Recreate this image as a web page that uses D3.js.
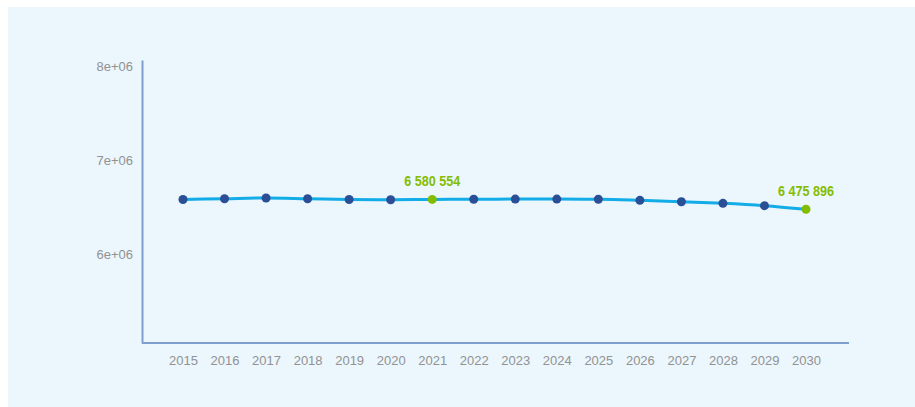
<!DOCTYPE html>
<html>
<head>
<meta charset="utf-8">
<script src="https://d3js.org/d3.v7.min.js"></script>
<style>
  body { margin: 0; background: #fff; }
  text { font-family: "Liberation Sans", Arial, sans-serif; }
</style>
</head>
<body>
<script>
// data
var years = [2015, 2016, 2017, 2018, 2019, 2020, 2021, 2022, 2023, 2024, 2025, 2026, 2027, 2028, 2029, 2030];
var population = [6580000, 6588000, 6596000, 6588000, 6580000, 6577000, 6580554, 6583000, 6584000, 6584000, 6582000, 6571000, 6556000, 6539000, 6514000, 6475896];
var highlightYears = [2021, 2030];
var yTicks = [6e6, 7e6, 8e6];

var W = 915, H = 407;
var margin = {top: 60, right: 67, bottom: 64, left: 142},
    width = W - margin.left - margin.right,
    height = H - margin.top - margin.bottom;

var svg = d3.select("body").append("svg")
    .attr("width", W)
    .attr("height", H);

// light panel behind the chart
svg.append("rect")
    .attr("x", 8).attr("y", 7)
    .attr("width", W - 8).attr("height", H - 7)
    .attr("fill", "#ebf6fd");

var g = svg.append("g")
    .attr("transform", "translate(" + margin.left + "," + margin.top + ")");

var x = d3.scalePoint()
    .domain(years)
    .range([41, 664]);

var y = d3.scaleLinear()
    .domain([5.053e6, 8.064e6])
    .range([height, 0]);

// axes
var yAxis = d3.axisLeft(y)
    .tickValues(yTicks)
    .tickSize(0)
    .tickPadding(9);

var xAxis = d3.axisBottom(x)
    .tickSize(0)
    .tickPadding(13);

var gy = g.append("g").call(yAxis);
gy.selectAll("text")
    .text(function(d) { return (d / 1e6) + "e+06"; });

var gx = g.append("g")
    .attr("transform", "translate(0," + height + ")")
    .call(xAxis);

[gx, gy].forEach(function(a) {
  a.select(".domain").attr("stroke", "#7f9fcf").attr("stroke-width", 2);
  a.selectAll("text")
      .attr("fill", "#929292")
      .style("font-size", "13px")
      .style("font-family", "'Liberation Sans', Arial, sans-serif");
});
gx.select(".domain").attr("d", "M0,0H" + (width + 1));

var data = years.map(function(d, i) { return {year: d, value: population[i]}; });

var line = d3.line()
    .x(function(d) { return x(d.year); })
    .y(function(d) { return y(d.value); })
    .curve(d3.curveMonotoneX);

g.append("path")
    .datum(data)
    .attr("fill", "none")
    .attr("stroke", "#12ace6")
    .attr("stroke-width", 3)
    .attr("d", line);

g.selectAll(".dot")
    .data(data)
  .enter().append("circle")
    .attr("class", "dot")
    .attr("cx", function(d) { return x(d.year); })
    .attr("cy", function(d) { return y(d.value); })
    .attr("r", 4.5)
    .attr("fill", function(d) { return highlightYears.indexOf(d.year) >= 0 ? "#84bd00" : "#2b4f96"; });

var fmt = function(v) { return d3.format(",")(v).replace(/,/g, " "); };

// condensed bold labels over the highlighted points
g.selectAll(".lbl")
    .data(data.filter(function(d) { return highlightYears.indexOf(d.year) >= 0; }))
  .enter().append("text")
    .attr("class", "lbl")
    .attr("x", function(d) { return x(d.year); })
    .attr("y", function(d) { return y(d.value) - 13; })
    .attr("text-anchor", "middle")
    .attr("fill", "#84bd00")
    .attr("textLength", 56)
    .attr("lengthAdjust", "spacingAndGlyphs")
    .style("font-weight", "bold")
    .style("font-size", "14px")
    .text(function(d) { return fmt(d.value); });
</script>
</body>
</html>
